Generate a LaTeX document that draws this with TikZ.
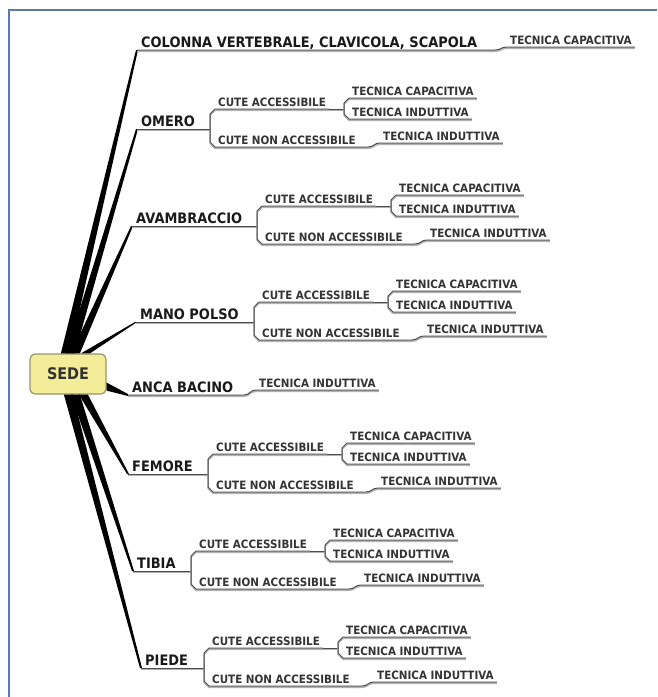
\documentclass[tikz,border=0pt]{standalone}
\usepackage{fontspec}
\setmainfont{DejaVu Sans}[FakeStretch=0.9]
\usepackage{xcolor}
\usepackage{tikz}
\usetikzlibrary{calc}

\definecolor{cornice}{RGB}{92,122,166}
\definecolor{giallo}{RGB}{243,236,152}
\definecolor{bordo}{RGB}{150,148,110}

\tikzset{
  sede/.style={draw=bordo, fill=giallo, line width=1.2pt, rounded corners=5pt,
    minimum width=76pt, minimum height=40pt, text=black!80,
    font=\bfseries\fontsize{16}{18}\selectfont},
  ramo/.style={anchor=south west, inner xsep=4pt, inner ysep=2.5pt, text depth=0pt,
    text=black!90, font=\bfseries\fontsize{14.4}{16}\selectfont},
  voce/.style={anchor=south west, inner xsep=3pt, inner ysep=2.2pt, text depth=0pt,
    text=black!80, font=\bfseries\fontsize{11.5}{13}\selectfont},
  linea/.style={draw=black!70, line width=1pt,
    preaction={draw=black!30, line width=1.5pt, transform canvas={yshift=-1.3pt}}},
  stelo/.style={fill=black},
}

\begin{document}
\begin{tikzpicture}[x=1pt, y=-1pt]
\useasboundingbox (0,0) rectangle (657,697);
% frame
\draw[cornice, line width=1.3pt] (9,697) -- (9,10) -- (657,10);

% root
\node[sede] (sede) at (68,374) {SEDE};

% colonna
\node[ramo] (colonna) at (137,50) {COLONNA VERTEBRALE, CLAVICOLA, SCAPOLA};
\node[voce] (colonna-tc) at (507,47) {TECNICA CAPACITIVA};
\fill[stelo] ($(sede.north west)+(31.5,0)$) -- ($(colonna.south west)+(-1,0)$)
  -- ($(colonna.south west)+(1,0)$) -- ($(sede.north west)+(40.5,0)$) -- cycle;
\draw[linea] (colonna.south west) -- (colonna.south east)
  -- ($(colonna-tc.south west)+(-12,3)$) .. controls +(6,0) and +(-6,0) .. (colonna-tc.south west)
  -- (colonna-tc.south east);

% anca bacino
\node[ramo] (anca) at (128,395) {ANCA BACINO};
\node[voce] (anca-ti) at (256,390) {TECNICA INDUTTIVA};
\fill[stelo] ($(sede.south east)+(0,-12)$) -- ($(anca.south west)+(0,-1)$)
  -- ($(anca.south west)+(0,1)$) -- ($(sede.south east)+(0,-4)$) -- cycle;
\draw[linea] (anca.south west) -- (anca.south east)
  -- ($(anca-ti.south west)+(-12,5)$) .. controls +(6,0) and +(-6,0) .. (anca-ti.south west)
  -- (anca-ti.south east);

% branches with two skin cases
\foreach \nome/\testo/\x/\p/\j/\ang/\dx in {
  omero/OMERO/137/129/210/north west/41,
  avamb/AVAMBRACCIO/132/226/257/north west/46,
  mano/MANO POLSO/136/322/254/north west/56,
  femore/FEMORE/128/474/208/south west/54,
  tibia/TIBIA/133/571/191/south west/46,
  piede/PIEDE/141/668/204/south west/39}
{
  \node[ramo] (\nome) at (\x,\p) {\testo};
  \coordinate (\nome-j) at (\j,\p);
  \node[voce] (\nome-ca) at ({\j+5},{\p-20}) {CUTE ACCESSIBILE};
  \node[voce] (\nome-cn) at ({\j+5},{\p+18}) {CUTE NON ACCESSIBILE};
  \node[voce] (\nome-tc) at ({\j+139},{\p-31}) {TECNICA CAPACITIVA};
  \node[voce] (\nome-ti) at ({\j+139},{\p-10}) {TECNICA INDUTTIVA};
  \node[voce] (\nome-tn) at ({\j+170},{\p+14}) {TECNICA INDUTTIVA};
  \coordinate (\nome-k) at ({\j+134},{\p-20});
  % stem
  \fill[stelo] ($(sede.\ang)+(\dx-4.5,0)$) -- ($(\nome.south west)+(-1,0)$)
    -- ($(\nome.south west)+(1,0)$) -- ($(sede.\ang)+(\dx+4.5,0)$) -- cycle;
  % underlines and brackets
  \draw[linea] (\nome.south west) -- (\nome-j);
  \draw[linea] (\nome-ca.south east) -- (\nome-ca.south west) -- ++(-5,5)
    -- ($(\nome-cn.south west)+(-5,-5)$) -- (\nome-cn.south west) -- (\nome-cn.south east);
  \draw[linea] (\nome-ca.south east) -- (\nome-k);
  \draw[linea] (\nome-tc.south east) -- (\nome-tc.south west) -- ++(-5,5)
    -- ($(\nome-ti.south west)+(-5,-5)$) -- (\nome-ti.south west) -- (\nome-ti.south east);
  \draw[linea] (\nome-cn.south east) -- ($(\nome-tn.south west)+(-12,4)$)
    .. controls +(6,0) and +(-6,0) .. (\nome-tn.south west) -- (\nome-tn.south east);
}
\end{tikzpicture}
\end{document}
